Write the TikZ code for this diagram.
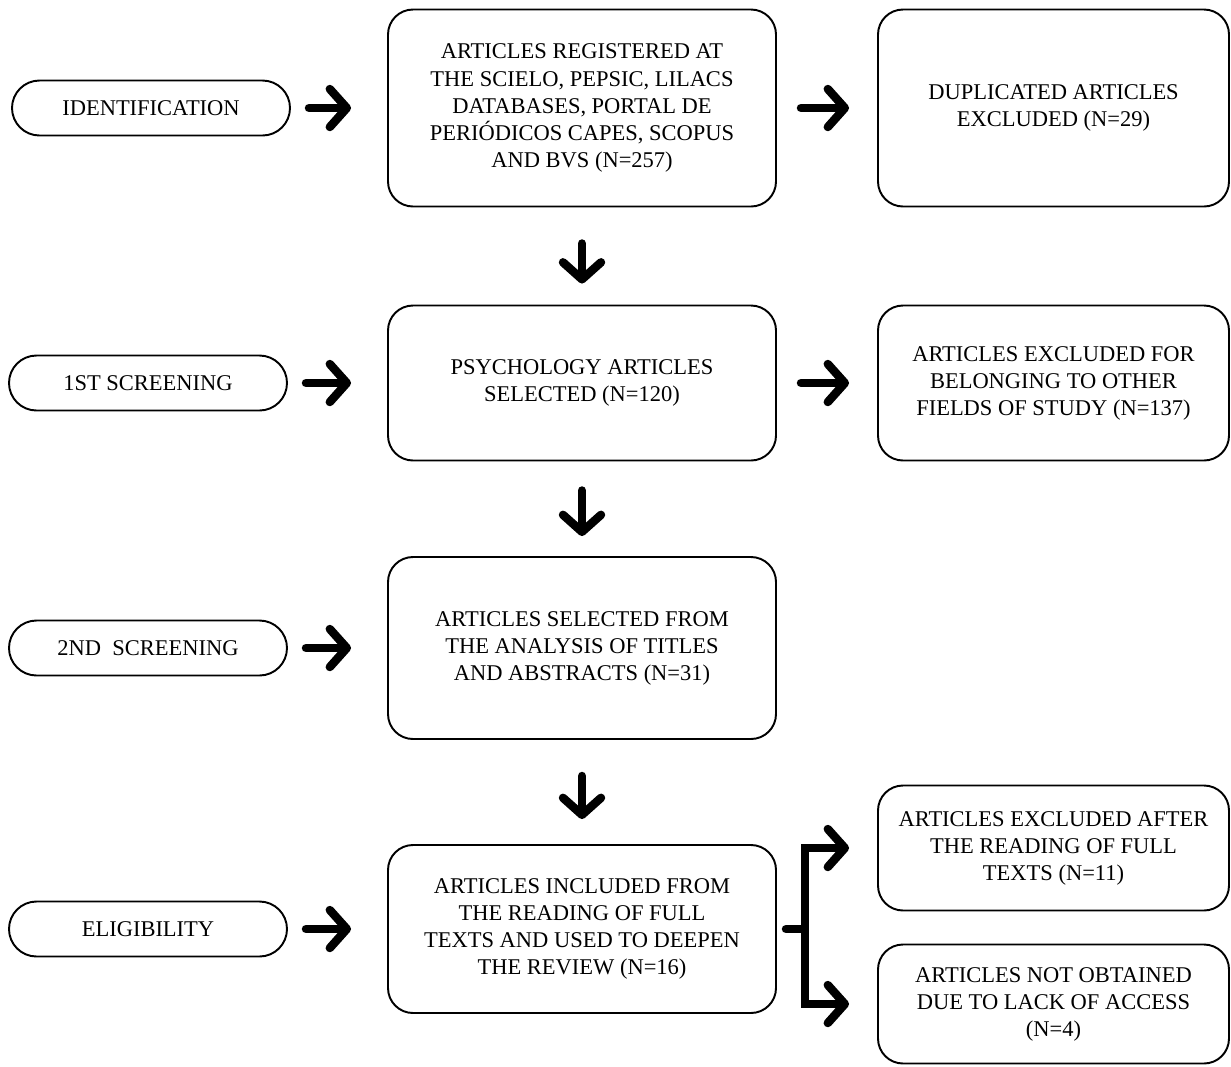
\documentclass[tikz,border=0pt]{standalone}
\usepackage{fontspec}
\setmainfont{Liberation Serif}
\usetikzlibrary{arrows.meta}

\begin{document}
\begin{tikzpicture}[font=\fontsize{12.8}{15.4}\selectfont,
    stage/.style={draw, line width=1.1pt, rounded corners=0.55cm, minimum width=5.56cm, minimum height=1.1cm, inner sep=0},
    box/.style={draw, line width=1.1pt, rounded corners=0.5cm, align=center, inner sep=0},
    arr/.style={line width=4.8pt, line cap=round, -{Straight Barb[length=0.34cm,width=0.76cm,round]}}]
    \useasboundingbox (0,0) rectangle (24.62,-21.32);

    \node (ident) [stage] at (3.02,-2.16) {IDENTIFICATION};
    \node (scrA) [stage] at (2.96,-7.66) {1ST SCREENING};
    \node (scrB) [stage] at (2.96,-12.96) {2ND\ \ SCREENING};
    \node (elig) [stage] at (2.96,-18.58) {ELIGIBILITY};

    \node (reg) [box, minimum width=7.76cm, minimum height=3.94cm] at (11.64,-2.16)
        {ARTICLES REGISTERED AT\\THE SCIELO, PEPSIC, LILACS\\DATABASES, PORTAL DE\\PERIÓDICOS CAPES, SCOPUS\\AND BVS (N=257)};
    \node (psy) [box, minimum width=7.76cm, minimum height=3.1cm] at (11.64,-7.66)
        {PSYCHOLOGY ARTICLES\\SELECTED (N=120)};
    \node (abst) [box, minimum width=7.76cm, minimum height=3.64cm] at (11.64,-12.96)
        {ARTICLES SELECTED FROM\\THE ANALYSIS OF TITLES\\AND ABSTRACTS (N=31)};
    \node (incl) [box, minimum width=7.76cm, minimum height=3.36cm] at (11.64,-18.58)
        {ARTICLES INCLUDED FROM\\THE READING OF FULL\\TEXTS AND USED TO DEEPEN\\THE REVIEW (N=16)};

    \node (dup) [box, minimum width=7.02cm, minimum height=3.94cm] at (21.07,-2.16)
        {DUPLICATED ARTICLES\\EXCLUDED (N=29)};
    \node (field) [box, minimum width=7.02cm, minimum height=3.1cm] at (21.07,-7.66)
        {ARTICLES EXCLUDED FOR\\BELONGING TO OTHER\\FIELDS OF STUDY (N=137)};
    \node (full) [box, minimum width=7.02cm, minimum height=2.5cm] at (21.07,-16.96)
        {ARTICLES EXCLUDED AFTER\\THE READING OF FULL\\TEXTS (N=11)};
    \node (access) [box, minimum width=7.02cm, minimum height=2.38cm] at (21.07,-20.08)
        {ARTICLES NOT OBTAINED\\DUE TO LACK OF ACCESS\\(N=4)};
    \coordinate (fork) at (16.1,-18.58);

    \draw[arr, shorten <=0.36cm, shorten >=0.72cm] (ident) -- (reg);
    \draw[arr, shorten <=0.36cm, shorten >=0.72cm] (scrA) -- (psy);
    \draw[arr, shorten <=0.36cm, shorten >=0.72cm] (scrB) -- (abst);
    \draw[arr, shorten <=0.36cm, shorten >=0.72cm] (elig) -- (incl);

    \draw[arr, shorten <=0.48cm, shorten >=0.56cm] (reg) -- (dup);
    \draw[arr, shorten <=0.48cm, shorten >=0.56cm] (psy) -- (field);

    \draw[arr, shorten <=0.72cm, shorten >=0.42cm] (reg) -- (psy);
    \draw[arr, shorten <=0.58cm, shorten >=0.40cm] (psy) -- (abst);
    \draw[arr, shorten <=0.72cm, shorten >=0.50cm] (abst) -- (incl);

    \draw[arr, shorten <=0.18cm, shorten >=0.56cm] (incl) -- (fork) |- (full);
    \draw[arr, shorten >=0.56cm] (fork) |- (access);
\end{tikzpicture}
\end{document}
